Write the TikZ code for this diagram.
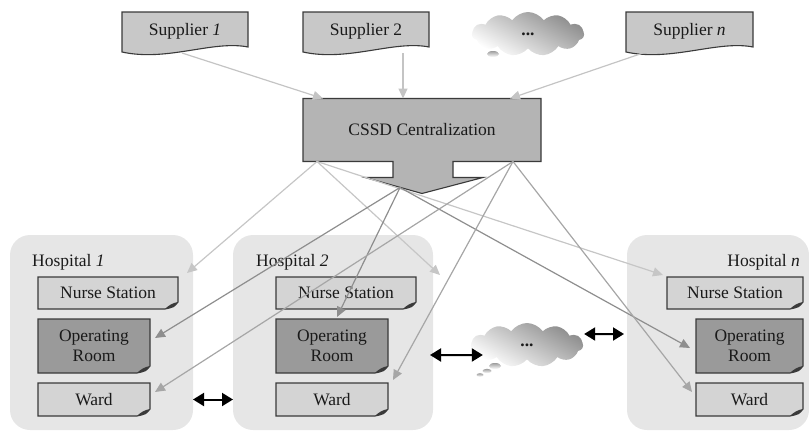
\documentclass[tikz,border=0pt]{standalone}
\usepackage{fontspec}
\setmainfont{Liberation Serif}
\usetikzlibrary{calc,shapes.symbols,arrows.meta}
\pgfdeclarelayer{bg}\pgfdeclarelayer{mid}
\pgfsetlayers{bg,mid,main}
\definecolor{edge}{HTML}{3A3A3A}
\definecolor{supfill}{HTML}{C8C8C8}
\definecolor{cssdfill}{HTML}{B4B4B4}
\definecolor{hospfill}{HTML}{E6E6E6}
\definecolor{lightbox}{HTML}{D4D4D4}
\definecolor{darkbox}{HTML}{9A9A9A}
\definecolor{arrS}{HTML}{C4C4C4}
\definecolor{arrL}{HTML}{C6C6C6}
\definecolor{arrA}{HTML}{8E8E8E}
\definecolor{arrR}{HTML}{A6A6A6}
\definecolor{txt}{HTML}{1A1A1A}
\newcommand\FoldShape[2]{%
 \filldraw[fill=#2, boxline] (#1.north west) -- (#1.north east) -- ($(#1.south east)+(0,-7)$) .. controls ($(#1.south east)+(-4,-2)$) .. ($(#1.south east)+(-13,0)$) -- (#1.south west) -- cycle;
 \fill[edge] ($(#1.south east)+(0,-7)$) .. controls ($(#1.south east)+(-6,-6)$) and ($(#1.south east)+(-10,-3)$) .. ($(#1.south east)+(-13,0)$) .. controls ($(#1.south east)+(-4,-2)$) .. cycle;}
\newcommand\DocShape[1]{%
 \filldraw[fill=supfill, boxline] (#1.north west) -- (#1.north east) -- ($(#1.south east)+(0,-3)$) .. controls ($(#1.south east)+(-35,-10)$) and ($(#1.south west)+(45,12)$) .. ($(#1.south west)+(0,2)$) -- cycle;}
\begin{document}
\begin{tikzpicture}[x=1pt,y=-1pt,
  every node/.style={font=\fontsize{17.5}{19.5}\selectfont, text=txt},
  boxnode/.style={inner sep=0pt, outer sep=0pt, align=center},
  boxline/.style={draw=edge, line width=1.1pt},
  hosp/.style={boxnode, fill=hospfill, rounded corners=20pt},
  flow/.style={line width=1.2pt, -{Triangle[length=10pt,width=9pt]}},
  dbl/.style={line width=2pt, black, {Triangle[length=11pt,width=13pt]}-{Triangle[length=11pt,width=13pt]}},
  cloudnode/.style={cloud, cloud puffs=11, cloud puff arc=110, aspect=2.5, inner sep=0pt, outer sep=0pt, minimum width=112pt, minimum height=44pt, top color=gray!90, bottom color=white, shading angle=-30},
  bubble/.style={top color=gray!75, bottom color=white}
]
\useasboundingbox (0,0) rectangle (809,434);

% hospital containers
\begin{pgfonlayer}{bg}
\node[hosp, minimum width=183pt, minimum height=195pt] (h1) at (101.5,332.5) {};
\node[hosp, minimum width=200pt, minimum height=195pt] (h2) at (333,332.5) {};
\node[hosp, minimum width=182pt, minimum height=195pt] (hn) at (718,332.5) {};
\end{pgfonlayer}

% suppliers
\node[boxnode, minimum width=126pt, minimum height=38pt] (s1) at (185,31) {Supplier \textit{1}};
\node[boxnode, minimum width=126pt, minimum height=38pt] (s2) at (366,31) {Supplier 2};
\node[boxnode, minimum width=127pt, minimum height=38pt] (sn) at (689.5,31) {Supplier \textit{n}};

% CSSD
\node[boxnode, minimum width=238pt, minimum height=63pt] (cssd) at (422,130) {CSSD Centralization};

% clouds
\node[cloudnode] (c1) at (528,34) {\textbf{...}};
\node[cloudnode] (c2) at (527,345) {\textbf{...}};
\shade[bubble] (493,54) ellipse [x radius=6pt, y radius=3pt];
\shade[bubble] (495,366) ellipse [x radius=6pt, y radius=3pt];
\shade[bubble] (487,371) ellipse [x radius=4.5pt, y radius=2.2pt];
\shade[bubble] (480,375) ellipse [x radius=3.5pt, y radius=1.8pt];

% hospital labels
\node[anchor=west, inner sep=0pt] (h1lab) at (32,262) {Hospital \textit{1}};
\node[anchor=west, inner sep=0pt] (h2lab) at (256,262) {Hospital \textit{2}};
\node[anchor=east, inner sep=0pt] (hnlab) at (800,262) {Hospital \textit{n}};

% inner boxes
\node[boxnode, minimum width=140pt, minimum height=32pt] (h1ns) at (108,293) {Nurse Station};
\node[boxnode, minimum width=112pt, minimum height=54pt] (h1op) at (94,346) {Operating\\Room};
\node[boxnode, minimum width=112pt, minimum height=33pt] (h1w) at (94,399.5) {Ward};
\node[boxnode, minimum width=140pt, minimum height=32pt] (h2ns) at (346,293) {Nurse Station};
\node[boxnode, minimum width=112pt, minimum height=54pt] (h2op) at (332,346) {Operating\\Room};
\node[boxnode, minimum width=112pt, minimum height=33pt] (h2w) at (332,399.5) {Ward};
\node[boxnode, minimum width=136pt, minimum height=32pt] (hnns) at (735,293) {Nurse Station};
\node[boxnode, minimum width=107pt, minimum height=54pt] (hnop) at (749.5,346) {Operating\\Room};
\node[boxnode, minimum width=107pt, minimum height=33pt] (hnw) at (749.5,399.5) {Ward};

% shapes
\begin{pgfonlayer}{mid}
\DocShape{s1}\DocShape{s2}\DocShape{sn}
\filldraw[fill=cssdfill, boxline] (cssd.north west) -- (cssd.north east) -- (cssd.south east)
  -- ($(cssd.south)+(31,0)$) -- ($(cssd.south)+(31,16)$) -- ($(cssd.south)+(61,16)$)
  -- ($(cssd.south)+(0,32)$) -- ($(cssd.south)+(-57,16)$) -- ($(cssd.south)+(-29,16)$)
  -- ($(cssd.south)+(-29,0)$) -- (cssd.south west) -- cycle;
\FoldShape{h1ns}{lightbox}\FoldShape{h1op}{darkbox}\FoldShape{h1w}{lightbox}
\FoldShape{h2ns}{lightbox}\FoldShape{h2op}{darkbox}\FoldShape{h2w}{lightbox}
\FoldShape{hnns}{lightbox}\FoldShape{hnop}{darkbox}\FoldShape{hnw}{lightbox}
\end{pgfonlayer}

% supplier arrows
\draw[flow, arrS] ($(s1.south)+(-3,3)$) -- ($(cssd.north west)+(20,0)$);
\draw[flow, arrS] ($(s2.south)+(37,3)$) -- ($(cssd.north)+(-19,0)$);
\draw[flow, arrS] ($(sn.south)+(-46.5,3)$) -- ($(cssd.north east)+(-31,0)$);

% distribution arrows
\coordinate (pL) at ($(cssd.south west)+(14,0)$);
\coordinate (pA) at ($(cssd.south)+(-22,26)$);
\coordinate (pR) at ($(cssd.south east)+(-28,0)$);
\coordinate (loose) at ($(h2.north east)+(7,40)$);

\draw[flow, arrL] (pL) -- ($(h1ns.north east)+(9,-4)$);
\draw[flow, arrL] (pL) -- (loose);
\draw[flow, arrL] (pL) -- ($(hnns.north west)+(-4,-2)$);

\draw[flow, arrA] (pA) -- ($(h1op.east)+(5,-8)$);
\draw[flow, arrA] (pA) -- ($(h2op.north)+(5,-2)$);
\draw[flow, arrA] (pA) -- ($(hnop.west)+(-6,2)$);

\draw[flow, arrR] (pR) -- ($(h1w.east)+(5,-7.5)$);
\draw[flow, arrR] (pR) -- ($(h2w.north east)+(5,-3)$);
\draw[flow, arrR] (pR) -- ($(hnw.west)+(-4,-7.5)$);

% double arrows
\draw[dbl] (h1.east |- h1w.center) -- (h2.west |- h1w.center);
\draw[dbl] ($(h2.east)+(-3,22.5)$) -- ($(c2.west)+(12,10)$);
\draw[dbl] ($(c2.east)+(1,-11)$) -- ($(hn.west)+(-3,1.5)$);
\end{tikzpicture}
\end{document}
